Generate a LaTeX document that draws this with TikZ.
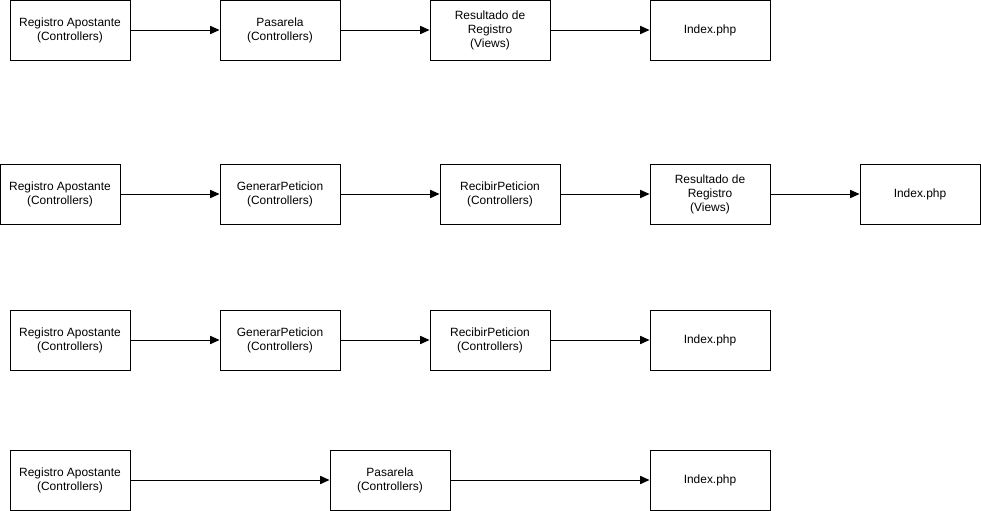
\documentclass[tikz,border=0pt]{standalone}
\usepackage{fontspec}
\setmainfont{Liberation Sans}
\usepackage{tikz}
\usetikzlibrary{arrows.meta}

\begin{document}
\begin{tikzpicture}[>={Stealth[length=8pt,width=7pt,inset=0pt]},x=0.03cm,y=-0.03cm,
  box/.style={draw,line width=0.8pt,minimum width=3.6cm,minimum height=1.8cm,
    inner sep=0pt,align=center,font=\fontsize{10.2}{12}\selectfont},
  flow/.style={->,line width=0.8pt}]
  \useasboundingbox (0,0) rectangle (981,511);

  % first row
  \node[box] (pA1) at (70,30) {Registro Apostante\\(Controllers)};
  \node[box] (pA2) at (280,30) {Pasarela\\(Controllers)};
  \node[box] (pA3) at (490,30) {Resultado de\\Registro\\(Views)};
  \node[box] (pA4) at (710,30) {Index.php};

  % second row
  \node[box] (pB1) at (60,194) {Registro Apostante\\(Controllers)};
  \node[box] (pB2) at (280,194) {GenerarPeticion\\(Controllers)};
  \node[box] (pB3) at (500,194) {RecibirPeticion\\(Controllers)};
  \node[box] (pB4) at (710,194) {Resultado de\\Registro\\(Views)};
  \node[box] (pB5) at (920,194) {Index.php};

  % third row
  \node[box] (pC1) at (70,340) {Registro Apostante\\(Controllers)};
  \node[box] (pC2) at (280,340) {GenerarPeticion\\(Controllers)};
  \node[box] (pC3) at (490,340) {RecibirPeticion\\(Controllers)};
  \node[box] (pC4) at (710,340) {Index.php};

  % fourth row
  \node[box] (pD1) at (70,480) {Registro Apostante\\(Controllers)};
  \node[box] (pD2) at (390,480) {Pasarela\\(Controllers)};
  \node[box] (pD3) at (710,480) {Index.php};

  % arrows
  \foreach \a/\b in {pA1/pA2,pA2/pA3,pA3/pA4,
    pB1/pB2,pB2/pB3,pB3/pB4,pB4/pB5,
    pC1/pC2,pC2/pC3,pC3/pC4,
    pD1/pD2,pD2/pD3}
  {
    \draw[flow] (\a) -- (\b);
  }
\end{tikzpicture}
\end{document}
